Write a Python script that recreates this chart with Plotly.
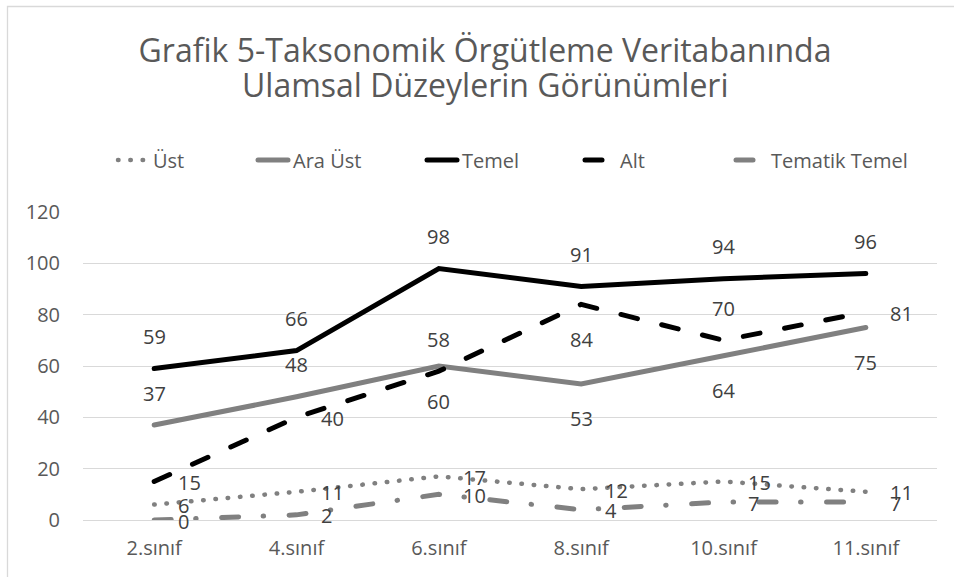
import plotly.graph_objects as go

categories = ["2.sınıf", "4.sınıf", "6.sınıf", "8.sınıf", "10.sınıf", "11.sınıf"]
ust = [6, 11, 17, 12, 15, 11]
ara_ust = [37, 48, 60, 53, 64, 75]
temel = [59, 66, 98, 91, 94, 96]
alt = [15, 40, 58, 84, 70, 81]
tematik_temel = [0, 2, 10, 4, 7, 7]

title_line1 = "Grafik 5-Taksonomik Örgütleme Veritabanında"
title_line2 = "Ulamsal Düzeylerin Görünümleri"

# label placement per point (Excel-like)
pos_ust = ["right"] * 6
pos_ara = ["above", "above", "below", "below", "below", "below"]
pos_temel = ["above"] * 6
pos_alt = ["right", "right", "above", "below", "above", "right"]
pos_tem = ["right"] * 6

FONT = "Open Sans"
GRAY = "#808080"
TXT = "#595959"
LBL = "#404040"

# name, values, colour, dash, width, label positions, legend entry width
series = [
    ("Üst", ust, GRAY, "0.5px,11.8px", 4.5, pos_ust, 95),
    ("Ara Üst", ara_ust, GRAY, "solid", 5, pos_ara, 124),
    ("Temel", temel, "#000000", "solid", 5, pos_temel, 113),
    ("Alt", alt, "#000000", "17px,25px", 5, pos_alt, 106),
    ("Tematik Temel", tematik_temel, GRAY, "17px,24.5px,0.5px,25.5px", 5, pos_tem, 140),
]

W, H = 954, 577
L, R, T, B = 83, 17, 212, 57
pw, ph = W - L - R, H - T - B

fig = go.Figure()
annotations = []
for name, vals, col, dash, w, pos, lw in series:
    fig.add_trace(go.Scatter(
        x=categories, y=vals, name=name, mode="lines",
        line=dict(color=col, width=w, dash=dash),
        hoverinfo="x+y+name", legendwidth=lw,
    ))
    for c, v, p in zip(categories, vals, pos):
        a = dict(x=c, y=v, xref="x", yref="y", text=str(v), showarrow=False,
                 font=dict(family=FONT, size=20, color=LBL))
        if p == "above":
            a.update(xanchor="center", yanchor="middle", yshift=32)
        elif p == "below":
            a.update(xanchor="center", yanchor="middle", yshift=-35)
        else:
            a.update(xanchor="left", yanchor="middle", xshift=22, yshift=-1)
        annotations.append(a)

# second title line
annotations.append(dict(
    text=title_line2, showarrow=False, xref="paper", yref="paper",
    x=(485 - L) / pw, xanchor="center", y=(520 - 85) / ph, yanchor="middle",
    font=dict(family=FONT, size=32, color=TXT),
))

fig.update_layout(
    width=W, height=H,
    margin=dict(l=L, r=R, t=T, b=B),
    paper_bgcolor="white", plot_bgcolor="white",
    font=dict(family=FONT, color=TXT, size=20),
    title=dict(
        text=title_line1,
        font=dict(family=FONT, size=32, color=TXT),
        x=485 / W, xanchor="center", xref="container",
        y=1 - 51 / H, yanchor="middle", yref="container",
    ),
    legend=dict(
        orientation="h", x=(113 - L) / pw, xanchor="left", y=(520 - 160) / ph,
        yanchor="middle", font=dict(family=FONT, size=20, color=TXT),
        bgcolor="rgba(0,0,0,0)",
    ),
    xaxis=dict(
        type="category", range=[-0.5, 5.5], showgrid=False, showline=True,
        linecolor="#D9D9D9", linewidth=1.3,
        ticks="", tickfont=dict(family=FONT, size=20, color=TXT), ticklabelstandoff=10,
        zeroline=False,
    ),
    yaxis=dict(
        range=[0, 120], dtick=20, showgrid=True, gridcolor="#D9D9D9", gridwidth=1.3,
        zeroline=False, showline=False, ticks="",
        tickfont=dict(family=FONT, size=20, color=TXT), ticklabelstandoff=22,
    ),
    annotations=annotations,
    shapes=[dict(
        type="rect", xref="paper", yref="paper", layer="below",
        x0=(7.5 - L) / pw, x1=(1000 - L) / pw,
        y0=(520 - 620) / ph, y1=(520 - 6.5) / ph,
        line=dict(color="#D9D9D9", width=1.3), fillcolor="rgba(0,0,0,0)",
    )],
    showlegend=True,
)

post = """
var s=document.createElement('style');
s.textContent='html,body{margin:0;padding:0;overflow:hidden;} .js-line{stroke-linecap:round;}';
document.head.appendChild(s);
"""
fig.write_html("out.html", post_script=post, config={"displayModeBar": False})
